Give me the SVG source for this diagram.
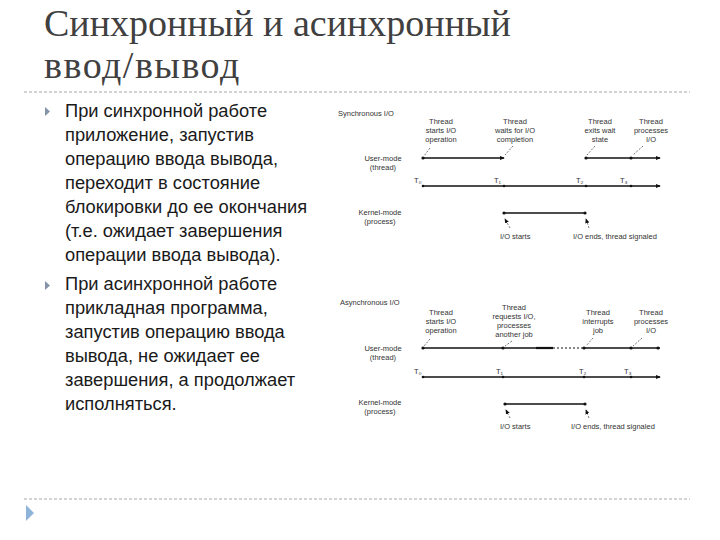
<svg xmlns="http://www.w3.org/2000/svg" width="720" height="540" viewBox="0 0 720 540">
<defs>
<style>
.title{font-family:"Liberation Serif",serif;font-size:38px;fill:#404040}
.body{font-family:"Liberation Sans",sans-serif;font-size:18.3px;fill:#1a1a1a}
.sm{font-family:"Liberation Sans",sans-serif;font-size:7.5px;fill:#333}
.mid{text-anchor:middle}
.ln{stroke:#111;stroke-width:1.4;fill:none}
.dash{stroke:#555;stroke-width:0.8;stroke-dasharray:2 1.5;fill:none}
.sep{stroke:#a6a6a6;stroke-width:1;stroke-dasharray:3 2;fill:none}
.dot{fill:#111}
.bul{fill:#8593a8}
</style>
<marker id="ah" viewBox="0 0 6 6" refX="5" refY="3" markerWidth="5" markerHeight="5" orient="auto" markerUnits="userSpaceOnUse">
<path d="M0,0.5 L6,3 L0,5.5 z" fill="#111"/>
</marker>
</defs>
<rect width="720" height="540" fill="#fff"/>

<g id="title">
<text class="title" x="44" y="36">Синхронный и асинхронный</text>
<text class="title" x="44" y="78" letter-spacing="1.5">ввод/вывод</text>
</g>
<line class="sep" x1="24" y1="92" x2="690" y2="92"/>
<line class="sep" x1="24" y1="499" x2="690" y2="499"/>
<polygon points="26,505 34,513 26,521" fill="#8fb4d9"/>

<g id="bullets">
<polygon class="bul" points="45,107 50,111.5 45,116"/>
<text class="body" x="65" y="117">При синхронной работе</text>
<text class="body" x="65" y="141">приложение, запустив</text>
<text class="body" x="65" y="165">операцию ввода вывода,</text>
<text class="body" x="65" y="189">переходит в состояние</text>
<text class="body" x="65" y="213">блокировки до ее окончания</text>
<text class="body" x="65" y="237">(т.е. ожидает завершения</text>
<text class="body" x="65" y="261">операции ввода вывода).</text>
<polygon class="bul" points="45,281 50,285.5 45,290"/>
<text class="body" x="65" y="290">При асинхронной работе</text>
<text class="body" x="65" y="314">прикладная программа,</text>
<text class="body" x="65" y="338">запустив операцию ввода</text>
<text class="body" x="65" y="362">вывода, не ожидает ее</text>
<text class="body" x="65" y="386">завершения, а продолжает</text>
<text class="body" x="65" y="410">исполняться.</text>
</g>

<g id="sync-labels">
<text class="sm" x="338" y="116">Synchronous I/O</text>
<text class="sm mid" x="441" y="124">Thread</text>
<text class="sm mid" x="441" y="133">starts I/O</text>
<text class="sm mid" x="441" y="142">operation</text>
<text class="sm mid" x="515" y="124">Thread</text>
<text class="sm mid" x="515" y="133">waits for I/O</text>
<text class="sm mid" x="515" y="142">completion</text>
<text class="sm mid" x="600" y="124">Thread</text>
<text class="sm mid" x="600" y="133">exits wait</text>
<text class="sm mid" x="600" y="142">state</text>
<text class="sm mid" x="651" y="124">Thread</text>
<text class="sm mid" x="651" y="133">processes</text>
<text class="sm mid" x="651" y="142">I/O</text>
<text class="sm mid" x="383" y="161">User-mode</text>
<text class="sm mid" x="383" y="170">(thread)</text>
<text class="sm" x="414" y="183">T₀</text>
<text class="sm" x="494" y="183">T₁</text>
<text class="sm" x="576" y="183">T₂</text>
<text class="sm" x="620" y="183">T₃</text>
<text class="sm mid" x="380" y="215">Kernel-mode</text>
<text class="sm mid" x="380" y="224">(process)</text>
<text class="sm" x="500" y="239">I/O starts</text>
<text class="sm" x="573" y="239">I/O ends, thread signaled</text>
</g>

<g id="sync-connectors">
<line class="ln" x1="423" y1="158" x2="504" y2="158" marker-end="url(#ah)"/>
<line class="ln" x1="586" y1="158" x2="660" y2="158" marker-end="url(#ah)"/>
<circle class="dot" cx="423" cy="158" r="1.6"/>
<circle class="dot" cx="586" cy="158" r="1.6"/>
<circle class="dot" cx="631" cy="158" r="1.6"/>
<line class="dash" x1="430" y1="148" x2="424" y2="156"/>
<line class="dash" x1="513" y1="146" x2="505" y2="155"/>
<line class="dash" x1="595" y1="146" x2="587" y2="155"/>
<line class="dash" x1="643" y1="146" x2="633" y2="155"/>
<line class="ln" x1="422" y1="186" x2="660" y2="186" marker-end="url(#ah)"/>
<circle class="dot" cx="423" cy="186" r="1.3"/>
<circle class="dot" cx="504" cy="186" r="1.3"/>
<circle class="dot" cx="586" cy="186" r="1.3"/>
<circle class="dot" cx="631" cy="186" r="1.3"/>
<line class="ln" x1="504" y1="213" x2="585" y2="213"/>
<circle class="dot" cx="504" cy="213" r="1.6"/>
<circle class="dot" cx="585" cy="213" r="1.6"/>
<line class="dash" x1="510" y1="228" x2="505" y2="219" marker-end="url(#ah)"/>
<line class="dash" x1="589" y1="228" x2="586" y2="219" marker-end="url(#ah)"/>
</g>

<g id="async-labels">
<text class="sm" x="340" y="305">Asynchronous I/O</text>
<text class="sm mid" x="441" y="315">Thread</text>
<text class="sm mid" x="441" y="324">starts I/O</text>
<text class="sm mid" x="441" y="333">operation</text>
<text class="sm mid" x="514" y="310">Thread</text>
<text class="sm mid" x="514" y="319">requests I/O,</text>
<text class="sm mid" x="514" y="328">processes</text>
<text class="sm mid" x="514" y="337">another job</text>
<text class="sm mid" x="598" y="315">Thread</text>
<text class="sm mid" x="598" y="324">interrupts</text>
<text class="sm mid" x="598" y="333">job</text>
<text class="sm mid" x="651" y="315">Thread</text>
<text class="sm mid" x="651" y="324">processes</text>
<text class="sm mid" x="651" y="333">I/O</text>
<text class="sm mid" x="383" y="351">User-mode</text>
<text class="sm mid" x="383" y="360">(thread)</text>
<text class="sm" x="414" y="374">T₀</text>
<text class="sm" x="496" y="374">T₁</text>
<text class="sm" x="579" y="374">T₂</text>
<text class="sm" x="624" y="374">T₃</text>
<text class="sm mid" x="380" y="405">Kernel-mode</text>
<text class="sm mid" x="380" y="414">(process)</text>
<text class="sm" x="500" y="429">I/O starts</text>
<text class="sm" x="571" y="429">I/O ends, thread signaled</text>
</g>

<g id="async-connectors">
<line class="ln" x1="423" y1="348" x2="536" y2="348"/>
<line x1="536" y1="348" x2="553" y2="348" stroke="#111" stroke-width="2.2"/>
<line x1="553" y1="348" x2="584" y2="348" stroke="#111" stroke-width="1" stroke-dasharray="2 2"/>
<line class="ln" x1="584" y1="348" x2="660" y2="348"/>
<circle class="dot" cx="423" cy="348" r="1.6"/>
<circle class="dot" cx="503" cy="348" r="1.6"/>
<circle class="dot" cx="584" cy="348" r="1.6"/>
<circle class="dot" cx="631" cy="348" r="1.6"/>
<circle class="dot" cx="658" cy="348" r="1.6"/>
<line class="dash" x1="430" y1="339" x2="424" y2="346"/>
<line class="dash" x1="512" y1="341" x2="505" y2="346"/>
<line class="dash" x1="593" y1="338" x2="586" y2="346"/>
<line class="dash" x1="642" y1="338" x2="633" y2="346"/>
<line class="ln" x1="422" y1="377" x2="660" y2="377" marker-end="url(#ah)"/>
<circle class="dot" cx="423" cy="377" r="1.3"/>
<circle class="dot" cx="503" cy="377" r="1.3"/>
<circle class="dot" cx="584" cy="377" r="1.3"/>
<circle class="dot" cx="631" cy="377" r="1.3"/>
<line class="ln" x1="505" y1="404" x2="585" y2="404"/>
<circle class="dot" cx="505" cy="404" r="1.6"/>
<circle class="dot" cx="585" cy="404" r="1.6"/>
<line class="dash" x1="510" y1="418" x2="506" y2="410" marker-end="url(#ah)"/>
<line class="dash" x1="589" y1="418" x2="586" y2="410" marker-end="url(#ah)"/>
</g>
</svg>
